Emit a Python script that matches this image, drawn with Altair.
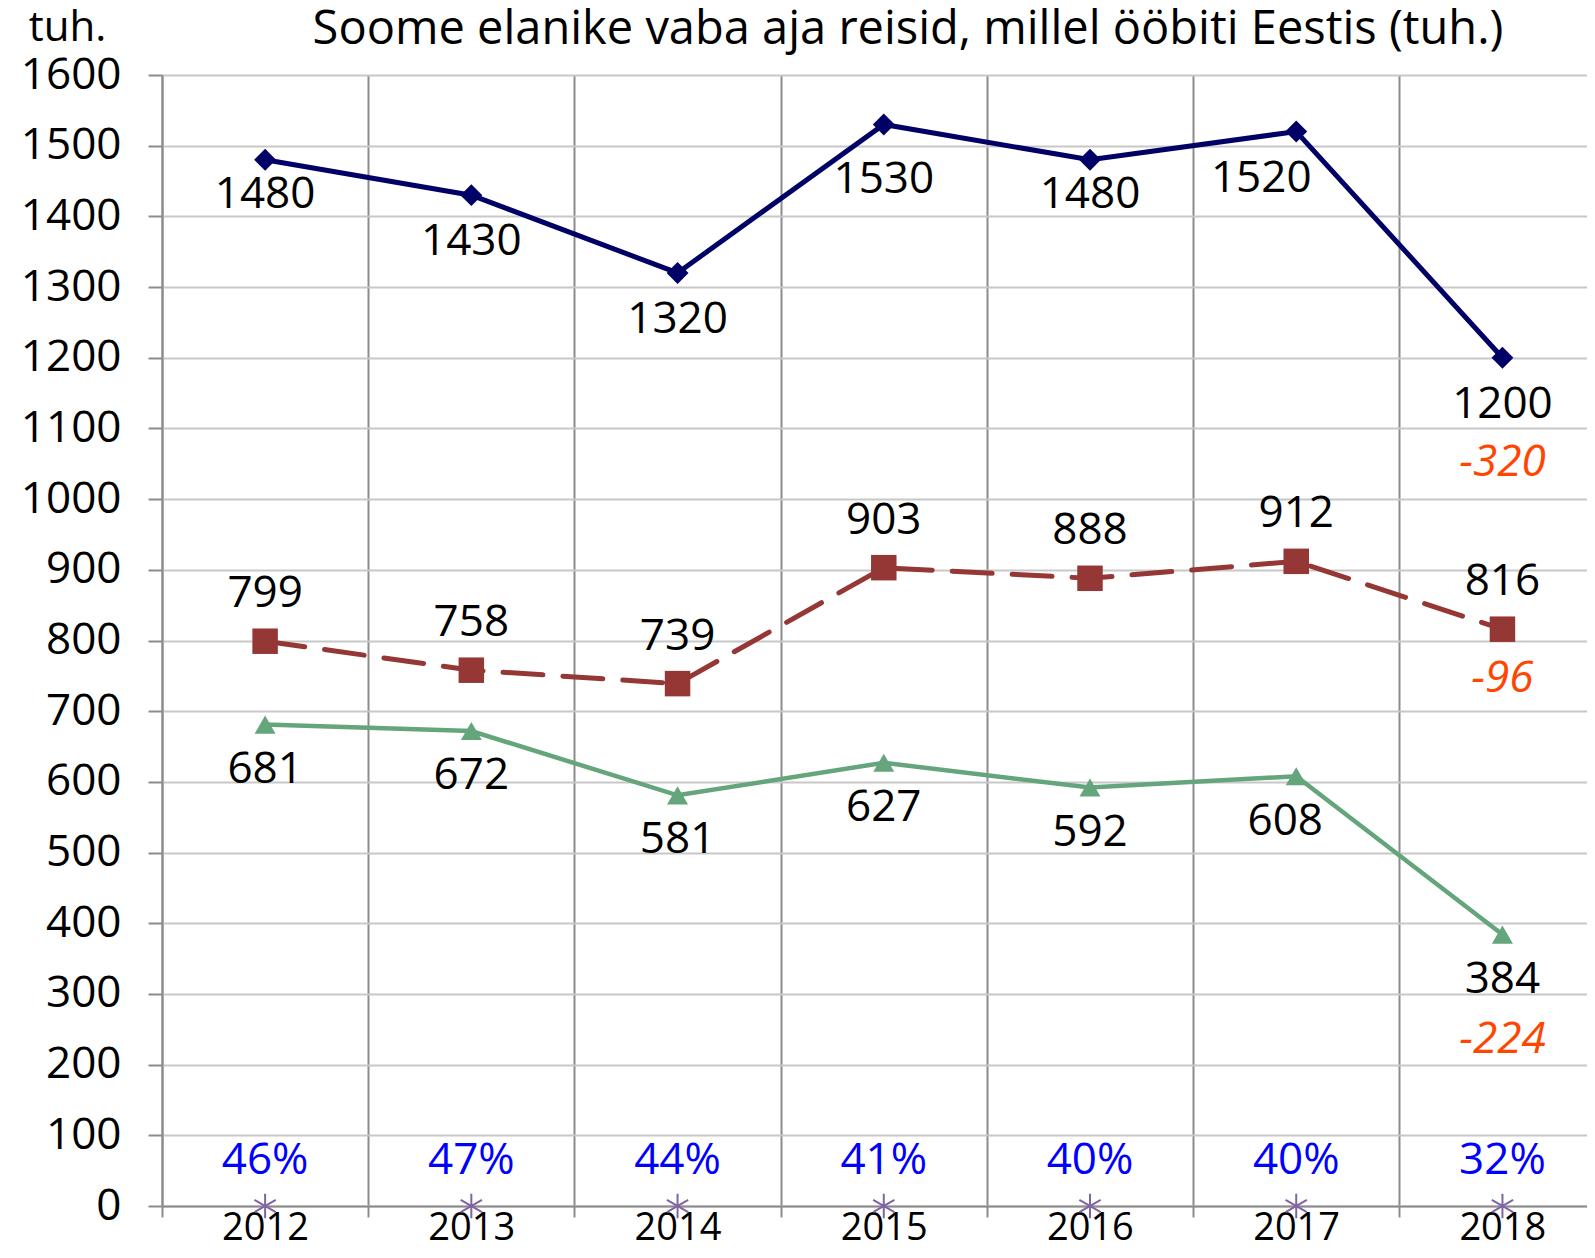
import altair as alt
import pandas as pd

TITLE = "Soome elanike vaba aja reisid, millel ööbiti Eestis (tuh.)"
years = [2012, 2013, 2014, 2015, 2016, 2017, 2018]
series_names = ["kokku", "teine", "kolmas"]
total = [1480, 1430, 1320, 1530, 1480, 1520, 1200]
middle = [799, 758, 739, 903, 888, 912, 816]
lower = [681, 672, 581, 627, 592, 608, 384]
shares = [46, 47, 44, 41, 40, 40, 32]

FONT = "Open Sans"
NAVY = "#000066"
BROWN = "#953735"
GREEN = "#65a57c"
LABEL_SIZE = 44

rows = []
for name, vals in zip(series_names, [total, middle, lower]):
    for i, (yr, v) in enumerate(zip(years, vals)):
        ch = v - vals[i - 1] if i > 0 else 0
        rows.append({"year": yr, "series": name, "value": v, "label": str(v),
                     "change": str(ch), "is_last": i == len(years) - 1})
df = pd.DataFrame(rows)
pct_df = pd.DataFrame({"year": years, "pct": [f"{p}%" for p in shares]})
title_df = pd.DataFrame({"t": [TITLE]})

x_enc = alt.X(
    "year:Q",
    scale=alt.Scale(domain=[2011.5, 2018.41], nice=False, zero=False),
    axis=alt.Axis(
        values=[y - 0.5 for y in years],
        labelExpr="format(datum.value + 0.5, 'd')",
        labelOffset=103,
        labelFlush=False,
        labelOverlap=False,
        labelFontSize=38,
        labelColor="black",
        labelFont=FONT,
        labelPadding=22,
        labelBaseline="alphabetic",
        tickSize=11,
        tickColor="#8c8c8c",
        tickWidth=2,
        domainColor="#8c8c8c",
        domainWidth=2,
        grid=True,
        gridColor="#8c8c8c",
        gridWidth=2,
        title=None,
    ),
)
y_scale = alt.Scale(domain=[0, 1600], nice=False, zero=True)
y_enc = alt.Y(
    "value:Q",
    scale=y_scale,
    axis=alt.Axis(
        values=list(range(0, 1700, 100)),
        format="d",
        labelFontSize=44,
        labelColor="black",
        labelFont=FONT,
        labelPadding=27,
        tickSize=14,
        tickColor="#8c8c8c",
        tickWidth=2,
        domainColor="#8c8c8c",
        domainWidth=2,
        gridColor="#c8c8c8",
        gridWidth=2,
        title="tuh.",
        titleAngle=0,
        titleX=-95,
        titleY=-35,
        titleAlign="center",
        titleBaseline="alphabetic",
        titleFontSize=42,
        titleFontWeight="normal",
        titleFont=FONT,
        titleColor="black",
    ),
)

base = alt.Chart(df)


def series(name):
    return base.transform_filter(alt.datum.series == name)


def txt(data, **kw):
    return data.mark_text(fontSize=LABEL_SIZE, font=FONT, color="black", **kw).encode(x=x_enc, y=y_enc, text="label:N")


# label offsets below the navy points, as placed in the original
navy_close = [2012, 2016]
navy_far = [2015]
navy_line = series("kokku").mark_line(color=NAVY, strokeWidth=5).encode(x=x_enc, y=y_enc)
navy_pts = series("kokku").mark_point(shape="diamond", filled=True, size=480, color=NAVY, opacity=1).encode(x=x_enc, y=y_enc)
navy_txt = txt(series("kokku").transform_filter(
    ~alt.FieldOneOfPredicate(field="year", oneOf=navy_close + navy_far + [2017])), dy=47)
navy_txt_close = txt(series("kokku").transform_filter(
    alt.FieldOneOfPredicate(field="year", oneOf=navy_close)), dy=35)
navy_txt_far = txt(series("kokku").transform_filter(
    alt.FieldOneOfPredicate(field="year", oneOf=navy_far)), dy=56)
navy_txt17 = txt(series("kokku").transform_filter(alt.datum.year == 2017), dy=47, dx=-35)

brown_line = series("teine").mark_line(color=BROWN, strokeWidth=5, strokeDash=[40, 20], strokeCap="round").encode(x=x_enc, y=y_enc)
brown_pts = series("teine").mark_point(shape="square", filled=True, size=650, color=BROWN, opacity=1).encode(x=x_enc, y=y_enc)
brown_txt = txt(series("teine"), dy=-47)

green_line = series("kolmas").mark_line(color=GREEN, strokeWidth=4.5).encode(x=x_enc, y=y_enc)
green_pts = series("kolmas").mark_point(shape="triangle-up", filled=True, size=440, color=GREEN, opacity=1).encode(x=x_enc, y=y_enc)
green_txt = txt(series("kolmas").transform_filter(alt.datum.year != 2017), dy=45)
green_txt17 = txt(series("kolmas").transform_filter(alt.datum.year == 2017), dy=46, dx=-11)

chg_far = base.transform_filter(
    (alt.datum.is_last == True) & (alt.datum.series != "teine")
).mark_text(fontSize=LABEL_SIZE, font=FONT, fontStyle="italic", color="#ff4500", dy=105).encode(x=x_enc, y=y_enc, text="change:N")
chg_near = base.transform_filter(
    (alt.datum.is_last == True) & (alt.datum.series == "teine")
).mark_text(fontSize=LABEL_SIZE, font=FONT, fontStyle="italic", color="#ff4500", dy=50).encode(x=x_enc, y=y_enc, text="change:N")

star_shape = "M0,-1L0,1M-0.87,-0.5L0.87,0.5M-0.87,0.5L0.87,-0.5"
pct_base = alt.Chart(pct_df)
pct_pts = pct_base.mark_point(shape=star_shape, filled=False, size=600, color="#8064a2", strokeWidth=2, opacity=1).encode(
    x=x_enc, y=alt.Y(datum=0, scale=y_scale))
pct_txt = pct_base.mark_text(fontSize=LABEL_SIZE, font=FONT, color="#0000ff", dy=-45).encode(
    x=x_enc, y=alt.Y(datum=0, scale=y_scale), text="pct:N")

title_txt = alt.Chart(title_df).mark_text(
    fontSize=47, font=FONT, color="black", align="center", baseline="alphabetic"
).encode(x=alt.value(746), y=alt.value(-31), text="t:N")

chart = alt.layer(
    navy_line, brown_line, green_line,
    navy_pts, brown_pts, green_pts, pct_pts,
    navy_txt, navy_txt_close, navy_txt_far, navy_txt17,
    brown_txt, green_txt, green_txt17, chg_far, chg_near, pct_txt,
    title_txt,
).properties(
    width=1425,
    height=1131,
    autosize=alt.AutoSizeParams(type="none"),
    padding={"left": 154, "top": 67, "right": 0, "bottom": 44},
).configure_view(strokeWidth=0).configure(font=FONT)

chart.save("out.html", embed_options={"renderer": "svg", "actions": False})
